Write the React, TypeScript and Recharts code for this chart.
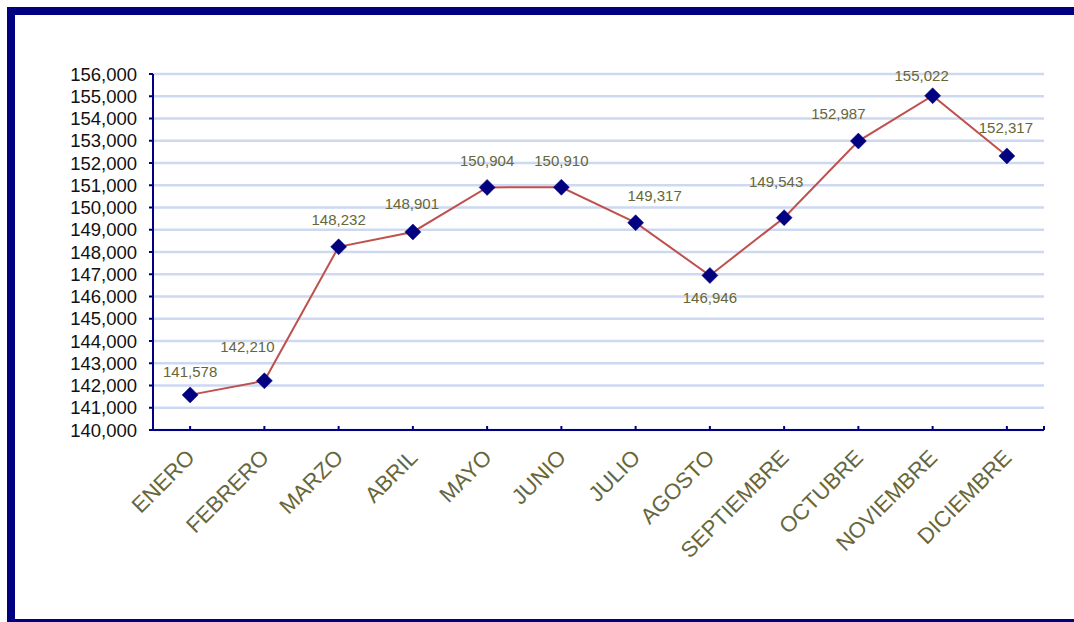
import React from "react";
import { LineChart, Line, XAxis, YAxis, CartesianGrid, LabelList } from "recharts";

const months = [
  "ENERO", "FEBRERO", "MARZO", "ABRIL", "MAYO", "JUNIO",
  "JULIO", "AGOSTO", "SEPTIEMBRE", "OCTUBRE", "NOVIEMBRE", "DICIEMBRE",
];
const values = [
  141578, 142210, 148232, 148901, 150904, 150910,
  149317, 146946, 149543, 152987, 155022, 152317,
];
const yTicks = [
  140000, 141000, 142000, 143000, 144000, 145000, 146000, 147000, 148000,
  149000, 150000, 151000, 152000, 153000, 154000, 155000, 156000,
];
// label placement relative to each point (style)
const labelDx = [0, -17, 0, -1, 0, 0, 19, 0, -8, -20, -11, -1];
const labelDy = [-23, -34, -27, -28, -27, -27, -27, 22, -36, -28, -20, -28];

const data = months.map((m, i) => ({ idx: i, month: m, value: values[i] }));
const xTicks = [...months.map((_, i) => i), months.length - 0.5];

const NAVY = "#000080";
const OLIVE = "#66663a";
const FONT = "'Liberation Sans', Arial, sans-serif";

const fmt = (v: number) => v.toLocaleString("en-US");

const XTick = (props: any) => {
  const { x, y, payload } = props;
  const i = payload.value;
  const label = Number.isInteger(i) ? months[i] : "";
  return (
    <g>
      <line x1={x} x2={x} y1={y - 4} y2={y} stroke={NAVY} strokeWidth={2} />
      {label && (
        <text
          x={x + 6}
          y={y + 29}
          textAnchor="end"
          fill={OLIVE}
          fontSize={22}
          fontFamily={FONT}
          transform={`rotate(-45 ${x + 6} ${y + 29})`}
        >
          {label}
        </text>
      )}
    </g>
  );
};

const Diamond = (props: any) => {
  const { cx, cy, index } = props;
  if (cx == null || cy == null) return null;
  const r = 8;
  return (
    <polygon
      key={`d-${index}`}
      points={`${cx},${cy - r} ${cx + r},${cy} ${cx},${cy + r} ${cx - r},${cy}`}
      fill={NAVY}
      stroke={NAVY}
      strokeWidth={0.5}
    />
  );
};

const DataLabel = (props: any) => {
  const { x, y, index, value } = props;
  return (
    <text
      x={x + labelDx[index]}
      y={y + labelDy[index]}
      textAnchor="middle"
      dominantBaseline="central"
      fill={OLIVE}
      fontSize={15}
      fontFamily={FONT}
    >
      {fmt(value)}
    </text>
  );
};

export default function App() {
  return (
    <div
      style={{
        position: "fixed",
        inset: 0,
        overflow: "hidden",
        background: "#fff",
      }}
    >
      <div
        style={{
          position: "absolute",
          left: 7,
          top: 7,
          width: 1200,
          height: 620,
          boxSizing: "border-box",
          border: `8px solid ${NAVY}`,
        }}
      />
      <div style={{ position: "absolute", left: 0, top: 0 }}>
        <LineChart
          width={1074}
          height={622}
          data={data}
          margin={{ top: 74, right: 30, bottom: 92, left: 73 }}
          style={{ fontFamily: FONT }}
        >
          <CartesianGrid
            horizontal
            vertical={false}
            stroke="#cdd9f1"
            strokeWidth={2.5}
          />
          <XAxis
            dataKey="idx"
            type="number"
            domain={[-0.5, 11.5]}
            ticks={xTicks}
            interval={0}
            height={100}
            tickSize={0}
            tickMargin={0}
            tickLine={false}
            axisLine={{ stroke: NAVY, strokeWidth: 2 }}
            tick={<XTick />}
          />
          <YAxis
            domain={[140000, 156000]}
            ticks={yTicks}
            interval={0}
            width={80}
            tickSize={4}
            tickMargin={12}
            tickFormatter={fmt}
            axisLine={{ stroke: NAVY, strokeWidth: 2 }}
            tickLine={{ stroke: NAVY, strokeWidth: 2 }}
            tick={{ fill: "#111", fontSize: 18.5, fontFamily: FONT }}
          />
          <Line
            type="linear"
            dataKey="value"
            stroke="#c0504d"
            strokeWidth={2}
            dot={<Diamond />}
            activeDot={false}
            isAnimationActive={false}
          >
            <LabelList dataKey="value" content={<DataLabel />} />
          </Line>
        </LineChart>
      </div>
    </div>
  );
}
